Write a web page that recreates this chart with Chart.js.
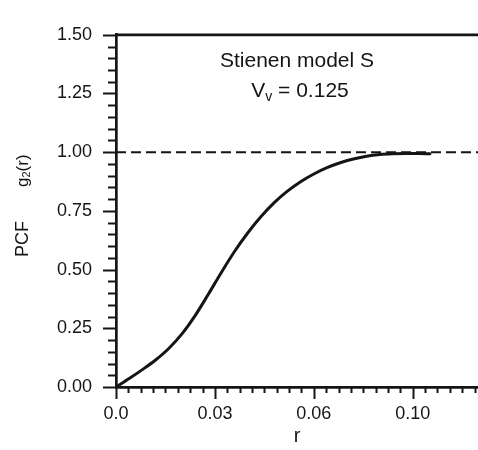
<!DOCTYPE html>
<html>
<head>
<meta charset="utf-8">
<script src="https://cdn.jsdelivr.net/npm/chart.js@4"></script>
<style>
  html, body { margin: 0; padding: 0; background: #fff; overflow: hidden; }
  #wrap { width: 478px; height: 450px; }
</style>
</head>
<body>
<div id="wrap"><canvas id="pcf" width="478" height="450"></canvas></div>
<script>
// values (x in axis units, last label printed as 0.10)
const rValues = [0, 0.004, 0.008, 0.012, 0.016, 0.020, 0.024, 0.028, 0.032, 0.036,
                 0.040, 0.044, 0.048, 0.052, 0.056, 0.060, 0.064, 0.068, 0.072,
                 0.076, 0.080, 0.084, 0.088, 0.092, 0.0952];
const g2Values = [0, 0.036, 0.074, 0.115, 0.164, 0.226, 0.304, 0.395, 0.489, 0.578,
                  0.657, 0.726, 0.785, 0.834, 0.874, 0.907, 0.934, 0.955, 0.971,
                  0.983, 0.990, 0.993, 0.994, 0.994, 0.993];
const refLevel = 1.0;

const xTickValues = [0, 0.03, 0.06, 0.09];
const xTickLabels = ['0.0', '0.03', '0.06', '0.10'];
const yTickLabels = ['0.00', '0.25', '0.50', '0.75', '1.00', '1.25', '1.50'];

const X_MAX = 0.1098;
const INK = '#151515';
const FONT = '"Liberation Sans", Arial, Helvetica, sans-serif';

// Tick marks (long major, short minor) pointing outwards, plus top frame and texts
const decorPlugin = {
    id: 'decor',
    afterDraw(chart) {
        const ctx = chart.ctx;
        const area = chart.chartArea;
        const xs = chart.scales.x;
        const ys = chart.scales.y;
        ctx.save();
        ctx.strokeStyle = INK;
        ctx.lineWidth = 2;

        // x ticks: 8 minor steps per major
        for (let i = 0; ; i++) {
            const v = i * 0.03 / 8;
            if (v > X_MAX) break;
            const px = Math.round(xs.getPixelForValue(v)) + 0.5;
            const len = (i % 8 === 0) ? 12 : 6;
            ctx.beginPath();
            ctx.moveTo(px, area.bottom);
            ctx.lineTo(px, area.bottom + len);
            ctx.stroke();
        }
        // y ticks: 5 minor steps per major
        for (let i = 0; i <= 30; i++) {
            const v = i * 0.05;
            const py = Math.round(ys.getPixelForValue(v)) + 0.5;
            const len = (i % 5 === 0) ? 13 : 8;
            ctx.beginPath();
            ctx.moveTo(area.left, py);
            ctx.lineTo(area.left - len, py);
            ctx.stroke();
        }

        // top frame line
        ctx.lineWidth = 2.7;
        ctx.beginPath();
        ctx.moveTo(area.left - 1, area.top);
        ctx.lineTo(chart.width, area.top);
        ctx.stroke();

        // annotation
        ctx.fillStyle = INK;
        ctx.textBaseline = 'alphabetic';
        ctx.textAlign = 'center';
        ctx.font = '21px ' + FONT;
        ctx.fillText('Stienen model S', 297, 67);

        ctx.textAlign = 'left';
        const big = '21px ' + FONT;
        const small = '14px ' + FONT;
        ctx.font = big;
        const wV = ctx.measureText('V').width;
        const wRest = ctx.measureText(' = 0.125').width;
        ctx.font = small;
        const wSub = ctx.measureText('v').width;
        let x0 = 300 - (wV + wSub + wRest) / 2;
        ctx.font = big;
        ctx.fillText('V', x0, 97);
        ctx.font = small;
        ctx.fillText('v', x0 + wV, 101);
        ctx.font = big;
        ctx.fillText(' = 0.125', x0 + wV + wSub, 97);

        // y axis title, rotated
        ctx.translate(23, 257);
        ctx.rotate(-Math.PI / 2);
        ctx.textBaseline = 'middle';
        ctx.font = '18px ' + FONT;
        ctx.fillText('PCF', 0, 0);
        let gx = 70;
        ctx.font = '17px ' + FONT;
        ctx.fillText('g', gx, 0);
        gx += ctx.measureText('g').width;
        ctx.font = '11px ' + FONT;
        ctx.fillText('2', gx, 4);
        gx += ctx.measureText('2').width;
        ctx.font = '17px ' + FONT;
        ctx.fillText('(r)', gx, 0);
        ctx.restore();
    }
};

const ctx = document.getElementById('pcf').getContext('2d');

new Chart(ctx, {
    type: 'line',
    data: {
        datasets: [
            {
                label: 'g2(r)',
                data: rValues.map((r, i) => ({ x: r, y: g2Values[i] })),
                borderColor: INK,
                borderWidth: 3,
                borderCapStyle: 'round',
                pointRadius: 0,
                cubicInterpolationMode: 'monotone',
                fill: false
            },
            {
                label: 'g2 = 1',
                data: [{ x: 0, y: refLevel }, { x: X_MAX, y: refLevel }],
                borderColor: INK,
                borderWidth: 2,
                borderDash: [10, 5],
                pointRadius: 0,
                fill: false
            }
        ]
    },
    options: {
        responsive: false,
        animation: false,
        layout: { padding: { top: 14, left: 0, right: 0, bottom: 0 } },
        plugins: {
            legend: { display: false },
            tooltip: { enabled: false }
        },
        scales: {
            x: {
                type: 'linear',
                min: 0,
                max: X_MAX,
                afterBuildTicks: scale => {
                    scale.ticks = xTickValues.map(v => ({ value: v }));
                },
                afterFit: scale => { scale.height = 63; },
                grid: { display: false, drawTicks: false },
                border: { display: true, color: INK, width: 2.7 },
                ticks: {
                    autoSkip: false,
                    maxRotation: 0,
                    padding: 16,
                    color: INK,
                    font: { family: FONT, size: 18 },
                    callback: (value, index) => xTickLabels[index]
                },
                title: {
                    display: true,
                    text: 'r',
                    color: INK,
                    font: { family: FONT, size: 20 },
                    padding: { top: 0, bottom: 2 }
                }
            },
            y: {
                type: 'linear',
                min: 0,
                max: 1.5,
                afterFit: scale => { scale.width = 116; },
                grid: { display: false, drawTicks: false },
                border: { display: true, color: INK, width: 2.7 },
                ticks: {
                    stepSize: 0.25,
                    padding: 24,
                    color: INK,
                    font: { family: FONT, size: 18 },
                    callback: (value, index) => yTickLabels[index]
                }
            }
        }
    },
    plugins: [decorPlugin]
});
</script>
</body>
</html>
